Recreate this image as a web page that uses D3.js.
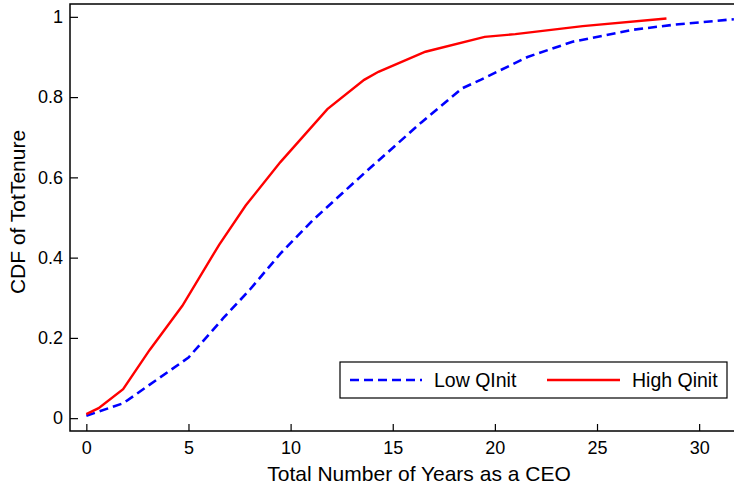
<!DOCTYPE html>
<html>
<head>
<meta charset="utf-8">
<script src="https://cdn.jsdelivr.net/npm/d3@7"></script>
<style>
  body { margin: 0; background: #fff; }
  svg { display: block; font-family: "Liberation Sans", Arial, sans-serif; }
</style>
</head>
<body>
<div id="chart"></div>
<script>
// values
var lowX = [0, 1.8, 5.0, 6.7, 8.0, 9.5, 11.1, 13.6, 16.4, 18.4, 19.3, 21.6, 23.8, 26.8, 28.7, 31.7];
var lowY = [0.006, 0.037, 0.151, 0.249, 0.32, 0.41, 0.494, 0.61, 0.737, 0.822, 0.843, 0.90, 0.938, 0.968, 0.98, 0.994];
var highX = [0, 0.6, 1.8, 3.1, 4.7, 6.5, 7.8, 9.5, 11.8, 13.6, 14.3, 16.6, 19.5, 21.0, 24.3, 28.4];
var highY = [0.01, 0.025, 0.072, 0.17, 0.28, 0.432, 0.53, 0.638, 0.77, 0.843, 0.863, 0.913, 0.95, 0.957, 0.977, 0.996];
var xTicks = [0, 5, 10, 15, 20, 25, 30];
var yTicks = [0, 0.2, 0.4, 0.6, 0.8, 1];
var seriesNames = ["Low QInit", "High Qinit"];

var W = 734, H = 488;
var plotLeft = 70, plotTop = 4, plotRight = 740, plotBottom = 431;

var svg = d3.select("#chart").append("svg")
  .attr("width", W)
  .attr("height", H);

var x = d3.scaleLinear().domain([-0.8, 32]).range([plotLeft, plotRight]);
var y = d3.scaleLinear().domain([-0.032, 1.032]).range([plotBottom, plotTop]);

// frame
svg.append("rect")
  .attr("x", plotLeft).attr("y", plotTop)
  .attr("width", plotRight - plotLeft).attr("height", plotBottom - plotTop)
  .attr("fill", "none").attr("stroke", "#000").attr("stroke-width", 1.5);

// y axis, ticks pointing inward
var yAxis = svg.append("g")
  .attr("transform", "translate(" + plotLeft + ",0)")
  .call(d3.axisRight(y).tickValues(yTicks).tickSize(8).tickFormat(d3.format("~g")));
yAxis.select(".domain").remove();
yAxis.selectAll("line").attr("stroke", "#000").attr("stroke-width", 1.2);
yAxis.selectAll("text")
  .attr("x", -7).attr("text-anchor", "end")
  .style("font-size", "18px").attr("fill", "#000");

// x axis, ticks pointing inward
var xAxis = svg.append("g")
  .attr("transform", "translate(0," + plotBottom + ")")
  .call(d3.axisTop(x).tickValues(xTicks).tickSize(7));
xAxis.select(".domain").remove();
xAxis.selectAll("line").attr("stroke", "#000").attr("stroke-width", 1.2);
xAxis.selectAll("text")
  .attr("y", 23).attr("dy", 0)
  .style("font-size", "18px").attr("fill", "#000");

// titles
svg.append("text")
  .attr("x", 419).attr("y", 481)
  .attr("text-anchor", "middle")
  .style("font-size", "21px")
  .text("Total Number of Years as a CEO");

svg.append("text")
  .attr("transform", "translate(25,212) rotate(-90)")
  .attr("text-anchor", "middle")
  .style("font-size", "21px")
  .text("CDF of TotTenure");

// curves
var line = d3.line().x(function(d) { return x(d[0]); }).y(function(d) { return y(d[1]); });
var lowData = d3.zip(lowX, lowY);
var highData = d3.zip(highX, highY);

svg.append("clipPath").attr("id", "clip")
  .append("rect").attr("x", plotLeft).attr("y", plotTop)
  .attr("width", plotRight - plotLeft).attr("height", plotBottom - plotTop);

svg.append("path")
  .datum(lowData)
  .attr("clip-path", "url(#clip)")
  .attr("d", line)
  .attr("fill", "none")
  .attr("stroke", "#0000ff")
  .attr("stroke-width", 2.6)
  .attr("stroke-dasharray", "9,5");

svg.append("path")
  .datum(highData)
  .attr("clip-path", "url(#clip)")
  .attr("d", line)
  .attr("fill", "none")
  .attr("stroke", "#ff0000")
  .attr("stroke-width", 2.4);

// legend
var legend = svg.append("g");
legend.append("rect")
  .attr("x", 340).attr("y", 362).attr("width", 387).attr("height", 36)
  .attr("fill", "#fff").attr("stroke", "#000").attr("stroke-width", 1.2);

legend.append("line")
  .attr("x1", 350).attr("x2", 422).attr("y1", 380).attr("y2", 380)
  .attr("stroke", "#0000ff").attr("stroke-width", 2.6).attr("stroke-dasharray", "9,5");
legend.append("text")
  .attr("x", 434).attr("y", 387)
  .style("font-size", "19.5px")
  .text(seriesNames[0]);

legend.append("line")
  .attr("x1", 547).attr("x2", 620).attr("y1", 380).attr("y2", 380)
  .attr("stroke", "#ff0000").attr("stroke-width", 2.4);
legend.append("text")
  .attr("x", 632).attr("y", 387)
  .style("font-size", "19.5px")
  .text(seriesNames[1]);
</script>
</body>
</html>
